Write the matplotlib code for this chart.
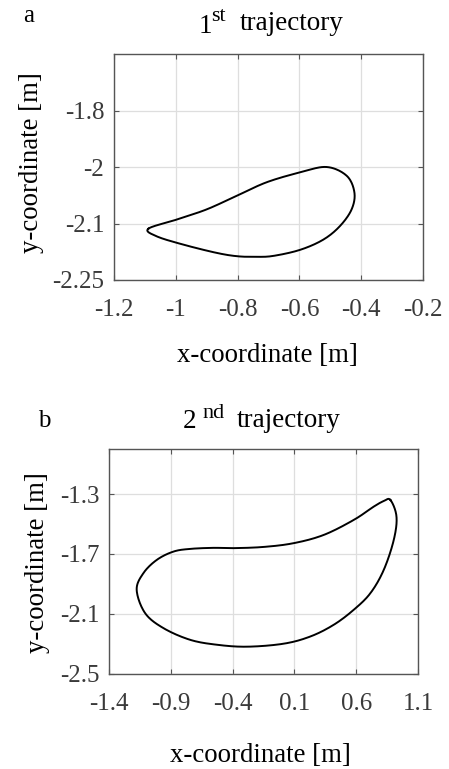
import matplotlib
matplotlib.use('Agg')
import matplotlib.pyplot as plt
import numpy as np

plt.rcParams['font.family'] = ['Liberation Serif', 'DejaVu Serif']

# 1st trajectory, points [m]
x1 = [-1.089, -0.997, -0.900, -0.803, -0.706, -0.598, -0.512, -0.447, -0.422,
      -0.431, -0.469, -0.523, -0.598, -0.684, -0.738, -0.800, -0.868, -0.976, -1.062]
y1 = [-2.114, -2.093, -2.075, -2.051, -2.027, -2.0095, -2.000, -2.0155, -2.045,
      -2.075, -2.107, -2.143, -2.170, -2.186, -2.1885, -2.187, -2.178, -2.156, -2.134]

# 2nd trajectory
x2 = [0.877, 0.926, 0.904, 0.823, 0.715, 0.580, 0.418, 0.229, 0.013, -0.284,
      -0.527, -0.744, -0.960, -1.108, -1.176, -1.122, -1.013, -0.879, -0.744,
      -0.555, -0.393, -0.150, 0.093, 0.337, 0.580, 0.742, 0.823]
y2 = [-1.340, -1.451, -1.606, -1.806, -1.961, -2.072, -2.172, -2.250, -2.298, -2.318,
      -2.305, -2.272, -2.194, -2.094, -1.939, -1.828, -1.739, -1.684, -1.666,
      -1.659, -1.661, -1.653, -1.628, -1.573, -1.473, -1.384, -1.347]

# axis ticks
xt1 = [-1.2, -1.0, -0.8, -0.6, -0.4, -0.2]
xt1_lab = ['-1.2', '-1', '-0.8', '-0.6', '-0.4', '-0.2']
yt1 = [-2.25, -2.1, -2.0, -1.8]
yt1_lab = ['-2.25', '-2.1', '-2', '-1.8']
xt2 = [-1.4, -0.9, -0.4, 0.1, 0.6, 1.1]
xt2_lab = ['-1.4', '-0.9', '-0.4', '0.1', '0.6', '1.1']
yt2 = [-2.5, -2.1, -1.7, -1.3]
yt2_lab = ['-2.5', '-2.1', '-1.7', '-1.3']

# the 1st y axis has evenly spaced ticks with uneven labels
yk = [-2.25, -2.1, -2.0, -1.8, -1.6]
pk = [0, 1, 2, 3, 4]
def fwd(v):
    return np.interp(v, yk, pk)
def inv(p):
    return np.interp(p, pk, yk)


def closed_spline(px, py, n=20):
    # periodic catmull-rom through the points
    P = np.column_stack([px, py])
    m = len(P)
    out = []
    t = np.linspace(0, 1, n, endpoint=False)[:, None]
    for i in range(m):
        p0, p1, p2, p3 = P[i - 1], P[i], P[(i + 1) % m], P[(i + 2) % m]
        seg = 0.5 * ((2 * p1) + (-p0 + p2) * t + (2 * p0 - 5 * p1 + 4 * p2 - p3) * t ** 2
                     + (-p0 + 3 * p1 - 3 * p2 + p3) * t ** 3)
        out.append(seg)
    out = np.vstack(out + [P[:1]])
    return out[:, 0], out[:, 1]


fig = plt.figure(figsize=(4.49, 7.69), dpi=100)
W, H = 449, 769

def style(ax):
    ax.grid(True, color='#dedede', linewidth=0.9)
    ax.set_axisbelow(True)
    for s in ax.spines.values():
        s.set_color('#555555')
        s.set_linewidth(1.0)
    ax.tick_params(direction='in', length=3.5, width=0.8, color='#555555',
                   top=True, right=True, labelsize=18, labelcolor='#3a3a3a')
    ax.tick_params(axis='x', pad=14)
    ax.tick_params(axis='y', pad=7)

def fig_text(x, y, s, **kw):
    fig.text(x / W, 1 - y / H, s, va='baseline', **kw)

# panel a
ax1 = fig.add_axes([114 / W, 1 - 280 / H, 309 / W, 226 / H])
ax1.set_yscale('function', functions=(fwd, inv))
sx, sp = closed_spline(x1, fwd(np.array(y1)))
ax1.plot(sx, inv(sp), color='black', linewidth=1.4)
ax1.set_xlim(-1.2, -0.2)
ax1.set_ylim(-2.25, -1.6)
ax1.set_xticks(xt1)
ax1.set_xticklabels(xt1_lab)
ax1.set_yticks(yt1)
ax1.set_yticklabels(yt1_lab)
ax1.yaxis.set_minor_locator(matplotlib.ticker.NullLocator())
style(ax1)

# panel b
ax2 = fig.add_axes([109 / W, 1 - 674 / H, 309 / W, 225 / H])
sx, sy = closed_spline(x2, y2)
ax2.plot(sx, sy, color='black', linewidth=1.4)
ax2.set_xlim(-1.4, 1.1)
ax2.set_ylim(-2.5, -1.0)
ax2.set_xticks(xt2)
ax2.set_xticklabels(xt2_lab)
ax2.set_yticks(yt2)
ax2.set_yticklabels(yt2_lab)
style(ax2)

# texts, panel a
fig_text(28.5, 22, 'a', fontsize=18, ha='center')
fig_text(199, 33, '1', fontsize=19.5, ha='left')
fig_text(211, 21, 'st', fontsize=16, ha='left')
fig_text(240, 30, 'trajectory', fontsize=19.5, ha='left')
fig_text(267.5, 362, 'x-coordinate [m]', fontsize=19.3, ha='center')
fig.text(32 / W, 1 - 162.5 / H, 'y-coordinate [m]', fontsize=19.3,
         ha='center', va='center', rotation=90)

# texts, panel b
fig_text(44, 427, 'b', fontsize=18, ha='center')
fig_text(183, 428, '2', fontsize=19.5, ha='left')
fig_text(202, 418, 'nd', fontsize=16, ha='left')
fig_text(237, 427, 'trajectory', fontsize=19.5, ha='left')
fig_text(260, 762, 'x-coordinate [m]', fontsize=19.3, ha='center')
fig.text(38 / W, 1 - 563 / H, 'y-coordinate [m]', fontsize=19.3,
         ha='center', va='center', rotation=90)

fig.savefig('out.png', dpi=100)
